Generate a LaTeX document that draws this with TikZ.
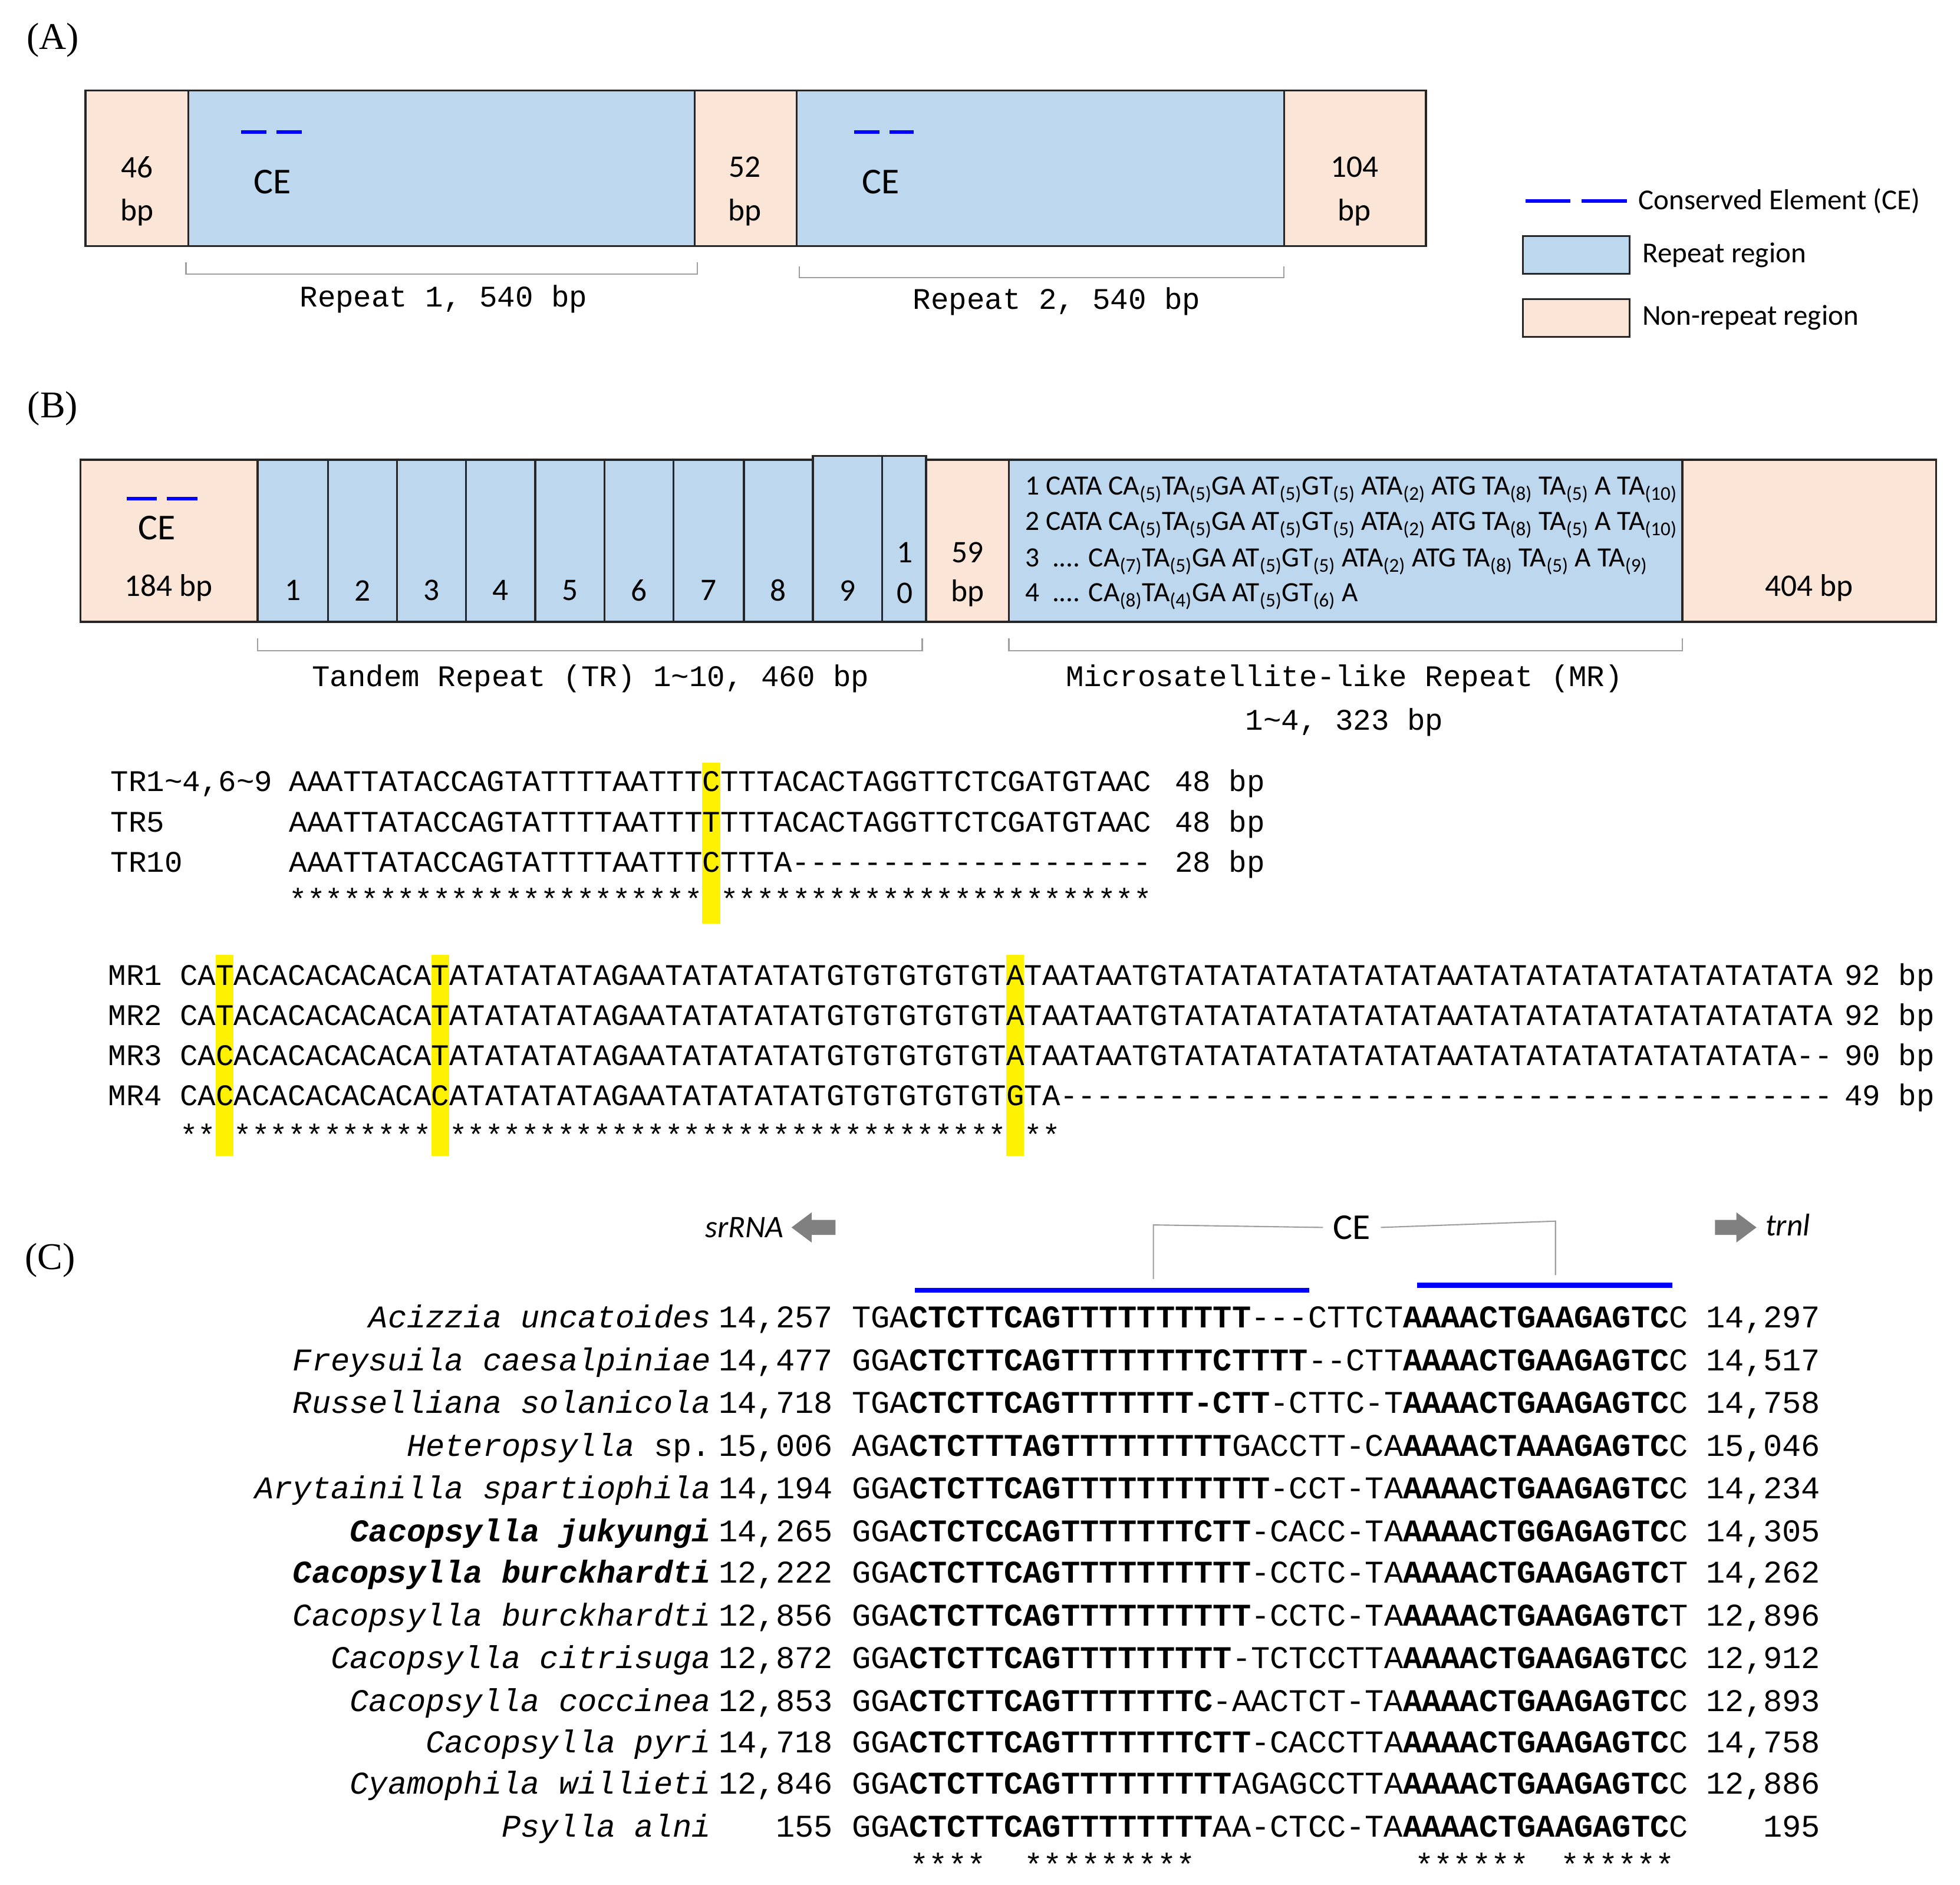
\documentclass[tikz,border=0pt]{standalone}
\usepackage{fontspec}
\setmainfont{Carlito}
\setmonofont{Liberation Mono}
\newfontfamily\serifl{Liberation Serif}
\definecolor{blueF}{HTML}{BDD7EE}
\definecolor{peachF}{HTML}{FBE5D6}
\newcommand\sbx[1]{\textsubscript{(#1)}}
\newcommand\bb[1]{\textbf{#1}}
\begin{document}
\begin{tikzpicture}[x=1pt,y=-1pt,
 bl/.style={draw=black!85,line width=1.6pt,fill=blueF},
 pc/.style={draw=black!85,line width=1.6pt,fill=peachF},
 lab/.style={font={\fontsize{25}{28}\selectfont},inner sep=0pt},
 mlab/.style={font={\fontsize{22.2}{24}\selectfont},inner sep=0pt,anchor=west},
 brk/.style={draw=gray!75,line width=1pt},
 mono/.style={font={\fontsize{23.83}{26}\selectfont\ttfamily},anchor=base west,inner sep=0pt},
 monoc/.style={font={\fontsize{25.2}{28}\selectfont\ttfamily},anchor=base west,inner sep=0pt},
 spc/.style={font={\fontsize{25.2}{28}\selectfont\ttfamily\itshape},anchor=base east,inner sep=0pt},
 num/.style={font={\fontsize{25.2}{28}\selectfont\ttfamily},anchor=base east,inner sep=0pt},
 cel/.style={draw=blue,line width=3pt},
 hl/.style={fill=yellow,draw=none},
 panel/.style={font={\fontsize{30}{34}\selectfont\serifl},inner sep=0pt}]
\useasboundingbox[fill=white] (0,0) rectangle (1560,1500);

% ---------- (A)
\node[panel] (pA) at (42,32) {(A)};
\draw[pc] (68,72) rectangle (150,196);
\draw[bl] (150,72) rectangle (553,196);
\draw[pc] (553,72) rectangle (634,196);
\draw[bl] (634,72) rectangle (1022,196);
\draw[pc] (1022,72) rectangle (1135,196);
\node[lab] (a46) at (109,133) {46};
\node[lab] (a46b) at (109,169) {bp};
\node[lab] (a52) at (593,133) {52};
\node[lab] (a52b) at (593,169) {bp};
\node[lab] (a104) at (1078,133) {104};
\node[lab] (a104b) at (1078,169) {bp};
\draw[cel] (192,105) -- (212,105) (220,105) -- (240,105);
\draw[cel] (680,105) -- (700,105) (708,105) -- (727,105);
\node[lab,font={\fontsize{29}{32}\selectfont}] (ce1) at (217,145) {CE};
\node[lab,font={\fontsize{29}{32}\selectfont}] (ce2) at (701,145) {CE};
\draw[brk] (148,209) -- (148,218) -- (555,218) -- (555,209);
\draw[brk] (636,212) -- (636,221) -- (1022,221) -- (1022,212);
\node[mono,anchor=center] (r1) at (353,238) {Repeat 1, 540 bp};
\node[mono,anchor=center] (r2) at (841,240) {Repeat 2, 540 bp};
% legend
\draw[cel] (1214,160) -- (1250,160) (1259,160) -- (1295,160);
\node[mlab,font={\fontsize{23}{26}\selectfont}] (lg1) at (1304,160) {Conserved Element (CE)};
\draw[bl,line width=1.2pt] (1212,188) rectangle (1297,218);
\node[mlab,font={\fontsize{23}{26}\selectfont}] (lg2) at (1307,203) {Repeat region};
\draw[pc,line width=1.2pt] (1212,238) rectangle (1297,268);
\node[mlab,font={\fontsize{23}{26}\selectfont}] (lg3) at (1307,253) {Non-repeat region};

% ---------- (B)
\node[panel] (pB) at (42,325) {(B)};
\draw[pc] (64,366) rectangle (205,495);
\draw[cel] (101,397) -- (125,397) (133,397) -- (157,397);
\node[lab,font={\fontsize{29}{32}\selectfont}] (ce3) at (125,420) {CE};
\node[lab] (b184) at (134,468) {184 bp};
\foreach \a/\b/\t/\l in {205/261/366/1,261/316/366/2,316/371/366/3,371/426/366/4,426/481/366/5,481/536/366/6,536/592/366/7,592/647/366/8,647/702/363/9}{
  \draw[bl] (\a,\t) rectangle (\b,495);
  \node[lab] (tr\l) at ({(\a+\b)/2},470) {\l};
}
\draw[bl] (702,363) rectangle (737,495);
\node[lab] (tr10a) at (720,440) {1};
\node[lab] (tr10b) at (720,472) {0};
\draw[pc] (737,366) rectangle (803,495);
\node[lab] (b59) at (770,440) {59};
\node[lab] (b59b) at (770,472) {bp};
\draw[bl] (803,366) rectangle (1339,495);
\draw[pc] (1339,366) rectangle (1541,495);
\node[lab] (b404) at (1440,468) {404 bp};
\node[mlab] (m1) at (816,390) {1 CATA CA\sbx5TA\sbx5GA AT\sbx5GT\sbx5 ATA\sbx2 ATG TA\sbx8 TA\sbx5 A TA\sbx{10}};
\node[mlab] (m2) at (816,418) {2 CATA CA\sbx5TA\sbx5GA AT\sbx5GT\sbx5 ATA\sbx2 ATG TA\sbx8 TA\sbx5 A TA\sbx{10}};
\node[mlab] (m3) at (816,447) {3 \ .... CA\sbx7TA\sbx5GA AT\sbx5GT\sbx5 ATA\sbx2 ATG TA\sbx8 TA\sbx5 A TA\sbx9};
\node[mlab] (m4) at (816,475) {4 \ .... CA\sbx8TA\sbx4GA AT\sbx5GT\sbx6 A};
\draw[brk] (205,508) -- (205,518) -- (734,518) -- (734,508);
\draw[brk] (803,508) -- (803,518) -- (1339,518) -- (1339,508);
\node[mono,anchor=center] (trl) at (470,540) {Tandem Repeat (TR) 1\textasciitilde10, 460 bp};
\node[mono,anchor=center] (mrl1) at (1070,540) {Microsatellite-like Repeat (MR)};
\node[mono,anchor=center] (mrl2) at (1070,575) {1\textasciitilde4, 323 bp};

% TR alignment
\fill[hl] (558.9,607) rectangle (573.2,735);
\node[mono] (t1l) at (88,630) {TR1\textasciitilde4,6\textasciitilde9};
\node[mono] (t2l) at (88,662) {TR5};
\node[mono] (t3l) at (88,694) {TR10};
\node[mono] (t1) at (230,630) {AAATTATACCAGTATTTTAATTTCTTTACACTAGGTTCTCGATGTAAC};
\node[mono] (t2) at (230,662) {AAATTATACCAGTATTTTAATTTTTTTACACTAGGTTCTCGATGTAAC};
\node[mono] (t3) at (230,694) {AAATTATACCAGTATTTTAATTTCTTTA--------------------};
\node[mono] (t1n) at (935,630) {48 bp};
\node[mono] (t2n) at (935,662) {48 bp};
\node[mono] (t3n) at (935,694) {28 bp};
\node[mono] (ts1) at (230,724) {***********************};
\node[mono] (ts2) at (573.2,724) {************************};

% MR alignment
\foreach \c in {2,14,46}{\fill[hl] ({143+\c*14.3},760) rectangle ({143+(\c+1)*14.3},920);}
\foreach \n/\y in {1/784,2/816,3/848,4/880}{\node[mono] (ml\n) at (86,\y) {MR\n};}
\node[mono] (mr1) at (143,784) {CATACACACACACATATATATATAGAATATATATATGTGTGTGTGTATAATAATGTATATATATATATATAATATATATATATATATATATA};
\node[mono] (mr2) at (143,816) {CATACACACACACATATATATATAGAATATATATATGTGTGTGTGTATAATAATGTATATATATATATATAATATATATATATATATATATA};
\node[mono] (mr3) at (143,848) {CACACACACACACATATATATATAGAATATATATATGTGTGTGTGTATAATAATGTATATATATATATATAATATATATATATATATATA--};
\node[mono] (mr4) at (143,880) {CACACACACACACACATATATATAGAATATATATATGTGTGTGTGTGTA-------------------------------------------};
\node[mono] (mn1) at (1468,784) {92 bp};
\node[mono] (mn2) at (1468,816) {92 bp};
\node[mono] (mn3) at (1468,848) {90 bp};
\node[mono] (mn4) at (1468,880) {49 bp};
\node[mono] (ms1) at (143,912) {**};
\node[mono] (ms2) at ({143+3*14.3},912) {***********};
\node[mono] (ms3) at ({143+15*14.3},912) {*******************************};
\node[mono] (ms4) at ({143+47*14.3},912) {**};

% ---------- (C)
\node[panel] (pC) at (40,1003) {(C)};
\node[lab,font={\fontsize{25}{28}\selectfont\itshape},anchor=east] (srr) at (624,977) {srRNA};
\fill[gray] (630,977) -- (646,965) -- (646,971) -- (665,971) -- (665,983) -- (646,983) -- (646,989) -- cycle;
\fill[gray] (1398,977) -- (1382,965) -- (1382,971) -- (1365,971) -- (1365,983) -- (1382,983) -- (1382,989) -- cycle;
\node[lab,font={\fontsize{25}{28}\selectfont\itshape},anchor=west] (trn) at (1405,975) {trnl};
\node[lab,font={\fontsize{29}{32}\selectfont}] (ceC) at (1076,977) {CE};
\coordinate (bl1) at (918,1018);
\coordinate (bl2) at (1238,1015);
\draw[brk] ([xshift=-8pt]ceC.west) -- (918,975) -- (bl1);
\draw[brk] ([xshift=8pt]ceC.east) -- (1238,972) -- (bl2);
\draw[blue,line width=4pt] (728,1027) -- (1042,1027);
\draw[blue,line width=4pt] (1128,1023) -- (1331,1023);

\newcommand\crow[6]{%
 \node[spc] (sp#1) at (566,#2) {#3};
 \node[num] (na#1) at (663,#2) {#4};
 \node[monoc] (sq#1) at (678,#2) {#5};
 \node[num] (nb#1) at (1449,#2) {#6};}
\crow{1}{1057}{Acizzia uncatoides}{14,257}{TGA\bb{CTCTTCAGTTTTTTTTTT}---CTTCT\bb{AAAACTGAAGAGTC}C}{14,297}
\crow{2}{1091}{Freysuila caesalpiniae}{14,477}{GGA\bb{CTCTTCAGTTTTTTTTCTTTT}--CTT\bb{AAAACTGAAGAGTC}C}{14,517}
\crow{3}{1125}{Russelliana solanicola}{14,718}{TGA\bb{CTCTTCAGTTTTTTT-CTT}-CTTC-T\bb{AAAACTGAAGAGTC}C}{14,758}
\crow{4}{1159}{Heteropsylla \upshape sp.}{15,006}{AGA\bb{CTCTTTAGTTTTTTTTT}GACCTT-CA\bb{AAAACTAAAGAGTC}C}{15,046}
\crow{5}{1193}{Arytainilla spartiophila}{14,194}{GGA\bb{CTCTTCAGTTTTTTTTTTT}-CCT-TA\bb{AAAACTGAAGAGTC}C}{14,234}
\crow{6}{1227}{\bfseries Cacopsylla jukyungi}{14,265}{GGA\bb{CTCTCCAGTTTTTTTCTT}-CACC-TA\bb{AAAACTGGAGAGTC}C}{14,305}
\crow{7}{1260}{\bfseries Cacopsylla burckhardti}{12,222}{GGA\bb{CTCTTCAGTTTTTTTTTT}-CCTC-TA\bb{AAAACTGAAGAGTC}T}{14,262}
\crow{8}{1294}{Cacopsylla burckhardti}{12,856}{GGA\bb{CTCTTCAGTTTTTTTTTT}-CCTC-TA\bb{AAAACTGAAGAGTC}T}{12,896}
\crow{9}{1328}{Cacopsylla citrisuga}{12,872}{GGA\bb{CTCTTCAGTTTTTTTTT}-TCTCCTTA\bb{AAAACTGAAGAGTC}C}{12,912}
\crow{10}{1362}{Cacopsylla coccinea}{12,853}{GGA\bb{CTCTTCAGTTTTTTTC}-AACTCT-TA\bb{AAAACTGAAGAGTC}C}{12,893}
\crow{11}{1395}{Cacopsylla pyri}{14,718}{GGA\bb{CTCTTCAGTTTTTTTCTT}-CACCTTA\bb{AAAACTGAAGAGTC}C}{14,758}
\crow{12}{1428}{Cyamophila willieti}{12,846}{GGA\bb{CTCTTCAGTTTTTTTTT}AGAGCCTTA\bb{AAAACTGAAGAGTC}C}{12,886}
\crow{13}{1462}{Psylla alni}{155}{GGA\bb{CTCTTCAGTTTTTTTT}AA-CTCC-TA\bb{AAAACTGAAGAGTC}C}{195}
\node[monoc] (cs1) at (724,1493) {****};
\node[monoc] (cs2) at (815,1493) {*********};
\node[monoc] (cs3) at (1126,1493) {******};
\node[monoc] (cs4) at (1242,1493) {******};
\end{tikzpicture}
\end{document}
